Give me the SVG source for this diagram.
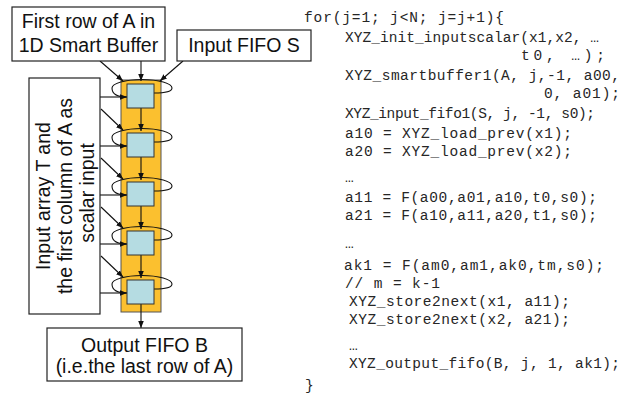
<svg xmlns="http://www.w3.org/2000/svg" width="639" height="394" viewBox="0 0 639 394">
<defs>
<style>
.box{fill:#fff;stroke:#222;stroke-width:1.2}
.lbl{font-family:"Liberation Sans",Arial,sans-serif;font-size:19.5px;fill:#111}
.code{font-family:"Liberation Mono","Courier New",monospace;font-size:14.5px;fill:#262626}
.pe{fill:#B5DCE2;stroke:#333;stroke-width:1}
.col{fill:#FBC02F;stroke:#555;stroke-width:1}
.con{stroke:#111;stroke-width:1.1;fill:none}
.arr{marker-end:url(#ah)}
</style>
<marker id="ah" viewBox="0 0 10 10" refX="10" refY="5" markerWidth="7" markerHeight="7" markerUnits="userSpaceOnUse" orient="auto">
<path d="M0,1 L10,5 L0,9 z" fill="#111"/>
</marker>
</defs>
<rect width="639" height="394" fill="#fff"/>

<g id="smartbuffer">
<rect class="col" x="121" y="80" width="40" height="232"/>
</g>

<g id="connectors">
<path class="con arr" d="M100,61 L123,81"/>
<path class="con arr" d="M141,61 L141,81"/>
<path class="con arr" d="M183,61 L160,81"/>
<path class="con" d="M154,93 Q172,93 172,88 A30,8.5 0 0 0 112,88 Q112,97 127,97"/>
<path class="con" d="M154,142 Q172,142 172,137 A30,8.5 0 0 0 112,137 Q112,146 127,146"/>
<path class="con" d="M154,191 Q172,191 172,186 A30,8.5 0 0 0 112,186 Q112,195 127,195"/>
<path class="con" d="M154,240 Q172,240 172,235 A30,8.5 0 0 0 112,235 Q112,244 127,244"/>
<path class="con" d="M154,289 Q172,289 172,284 A30,8.5 0 0 0 112,284 Q112,293 127,293"/>
<path class="con arr" d="M100,97 L127,97"/>
<path class="con arr" d="M100,146 L127,146"/>
<path class="con arr" d="M100,195 L127,195"/>
<path class="con arr" d="M100,244 L127,244"/>
<path class="con arr" d="M100,293 L127,293"/>
<path class="con arr" d="M141,108 L141,131"/>
<path class="con arr" d="M141,157 L141,180"/>
<path class="con arr" d="M141,206 L141,229"/>
<path class="con arr" d="M141,255 L141,278"/>
<path class="con arr" d="M101,109 L123,130"/>
<path class="con arr" d="M101,158 L123,179"/>
<path class="con arr" d="M101,207 L123,228"/>
<path class="con arr" d="M101,256 L123,277"/>
<path class="con arr" d="M141,304 L141,328"/>
</g>

<g id="pe1"><rect class="pe" x="127" y="84" width="27" height="24"/></g>
<g id="pe2"><rect class="pe" x="127" y="133" width="27" height="24"/></g>
<g id="pe3"><rect class="pe" x="127" y="182" width="27" height="24"/></g>
<g id="pe4"><rect class="pe" x="127" y="231" width="27" height="24"/></g>
<g id="pe5"><rect class="pe" x="127" y="280" width="27" height="24"/></g>

<g id="first-row">
<rect class="box" x="12" y="7" width="153" height="54"/>
<text class="lbl" x="88.5" y="28" text-anchor="middle">First row of A in</text>
<text class="lbl" x="88.5" y="52" text-anchor="middle">1D Smart Buffer</text>
</g>

<g id="input-fifo">
<rect class="box" x="177" y="30" width="134" height="31"/>
<text class="lbl" x="244" y="52" text-anchor="middle">Input FIFO S</text>
</g>

<g id="scalar-input">
<rect class="box" x="29" y="78" width="71" height="236"/>
<text class="lbl" transform="translate(50,196) rotate(-90)" text-anchor="middle">Input array T and</text>
<text class="lbl" transform="translate(72,196) rotate(-90)" text-anchor="middle">the first column of A as</text>
<text class="lbl" transform="translate(94,193) rotate(-90)" text-anchor="middle">scalar input</text>
</g>

<g id="output-fifo">
<rect class="box" x="47" y="328" width="195" height="53"/>
<text class="lbl" x="144.5" y="352" text-anchor="middle">Output FIFO B</text>
<text class="lbl" x="144.5" y="373" text-anchor="middle">(i.e.the last row of A)</text>
</g>

<g id="code">
<text class="code" x="304" y="22" textLength="200">for(j=1; j&lt;N; j=j+1){</text>
<text class="code" x="345" y="42" textLength="254">XYZ_init_inputscalar(x1,x2, …</text>
<text class="code" x="521" y="60" textLength="84">t0, …);</text>
<text class="code" x="345" y="80" textLength="275">XYZ_smartbuffer1(A, j,-1, a00,</text>
<text class="code" x="544" y="98" textLength="76">0, a01);</text>
<text class="code" x="345" y="118" textLength="250">XYZ_input_fifo1(S, j, -1, s0);</text>
<text class="code" x="345" y="138" textLength="227">a10 = XYZ_load_prev(x1);</text>
<text class="code" x="345" y="156" textLength="227">a20 = XYZ_load_prev(x2);</text>
<text class="code" x="345" y="182">…</text>
<text class="code" x="345" y="202" textLength="252">a11 = F(a00,a01,a10,t0,s0);</text>
<text class="code" x="345" y="220" textLength="252">a21 = F(a10,a11,a20,t1,s0);</text>
<text class="code" x="345" y="248">…</text>
<text class="code" x="344" y="270" textLength="260">ak1 = F(am0,am1,ak0,tm,s0);</text>
<text class="code" x="345" y="288" textLength="95">// m = k-1</text>
<text class="code" x="349" y="306" textLength="221">XYZ_store2next(x1, a11);</text>
<text class="code" x="349" y="324" textLength="221">XYZ_store2next(x2, a21);</text>
<text class="code" x="349" y="350">…</text>
<text class="code" x="349" y="368" textLength="271">XYZ_output_fifo(B, j, 1, ak1);</text>
<text class="code" x="305" y="390">}</text>
</g>
</svg>
